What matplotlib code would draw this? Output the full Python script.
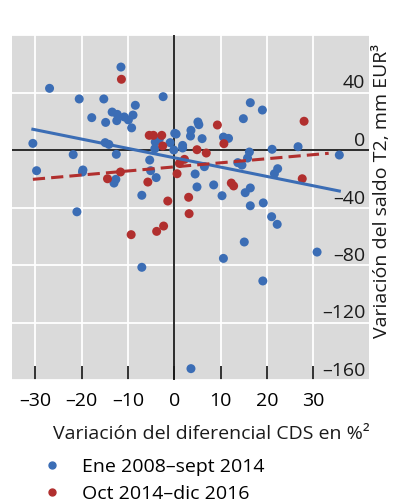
import numpy as np
import matplotlib
matplotlib.use("Agg")
import matplotlib.pyplot as plt
import matplotlib.transforms as mtransforms
from matplotlib.lines import Line2D

plt.rcParams['font.family'] = ['Open Sans', 'DejaVu Sans']

# Ene 2008 - sept 2014 (x: variacion CDS %, y: variacion saldo T2)
blue_x = [-11.5, -26.9, -20.5, -15.2, -2.4, -8.4, -17.8, -14.8, -13.4, -12.3,
          -12.4, -10.8, -9.9, -8.9, -9.2, -30.5, -14.9, -14.1, -21.8, -12.5,
          -29.7, -19.7, -19.8, -12.6, -13.0, -21.0, 0.1, 0.4, 5.1, 5.3,
          3.6, 3.5, 6.0, 10.6, 11.7, 14.9, -3.2, -4.1, -0.9, 1.8,
          1.8, -4.2, -0.1, -5.3, -5.1, -3.9, 4.5, 6.5, 4.9, 8.5,
          10.3, -7.0, 13.7, 14.6, 15.3, 16.4, 19.0, 16.2, 15.8, 21.1,
          26.7, 35.6, 22.3, 21.6, 16.4, 16.4, 19.2, 21.0, 22.2, 15.1,
          10.6, 30.8, 19.1, 3.6, -7.0]
blue_y = [57.7, 42.9, 35.5, 35.5, 37.1, 31.1, 22.5, 19.2, 26.4, 24.8,
          20.4, 23.0, 20.9, 24.3, 15.4, 4.6, 5.1, 3.9, -3.2, -3.0,
          -14.4, -13.9, -15.3, -20.4, -23.0, -43.0, 11.6, 11.1, 19.5, 17.6,
          13.7, 9.7, 7.9, 9.0, 8.1, 21.8, 7.9, 5.6, 5.1, 3.2,
          1.4, 0.9, 0.0, -7.0, -14.4, -19.2, -16.7, -11.6, -25.7, -24.3,
          -31.8, -31.5, -8.8, -10.5, -29.7, 32.9, 27.8, -1.4, -5.6, 0.5,
          2.3, -3.5, -13.0, -16.5, -26.4, -38.8, -36.8, -46.4, -51.7, -64.0,
          -75.4, -71.0, -91.1, -152.1, -81.6]

# Oct 2014 - dic 2016
red_x = [-11.4, -11.6, -14.4, -5.4, -4.5, -2.7, -2.5, 9.3, 10.7, 4.9,
         6.9, 2.2, 1.1, 0.6, -5.7, 12.3, 12.8, 3.1, -1.4, 3.2,
         -9.3, -3.8, -2.3, 28.0, 27.6]
red_y = [49.2, -15.3, -20.0, 10.2, 10.2, 10.2, 2.8, 17.4, 4.4, 0.2,
         -2.1, -6.5, -9.3, -16.5, -22.3, -23.0, -25.0, -32.9, -35.5, -44.3,
         -58.9, -56.6, -52.9, 20.0, -20.0]

# trend lines (slope, intercept)
blue_trend = (-0.65, -5.4)
red_trend = (0.284, -11.75)

labels = ['Ene 2008\u2013sept 2014', 'Oct 2014\u2013dic 2016']
xticks = [-30, -20, -10, 0, 10, 20, 30]
yticks = [-160, -120, -80, -40, 0, 40, 80]
ylabels_shown = [-160, -120, -80, -40, 0, 40]

c_blue = '#3b6db5'
c_red = '#b12f2e'
fs = 14

fig = plt.figure(figsize=(3.95, 5.04), dpi=100)
ax = fig.add_axes([12/395, 1-380/504, (369-12)/395, (380-35)/504])
ax.set_facecolor('#dadada')
ax.set_xlim(-35, 42)
ax.set_ylim(-160, 80)
for s in ax.spines.values():
    s.set_visible(False)

ax.set_xticks(xticks)
ax.set_xticklabels([str(t).replace('-', '\u2013') for t in xticks], fontsize=fs)
ax.set_yticks(yticks)
ax.set_yticklabels([])
ax.tick_params(axis='x', direction='in', length=10, width=1.3, color='#222222', pad=8.5)
ax.tick_params(axis='y', length=0)
ax.grid(True, color='white', linewidth=1.3, zorder=0)
ax.set_axisbelow(True)

ax.axhline(0, color='#1a1a1a', linewidth=1.3, zorder=1)
ax.axvline(0, color='#1a1a1a', linewidth=1.3, zorder=1)

ax.scatter(blue_x, blue_y, s=42, color=c_blue, edgecolors='none', zorder=3)
ax.scatter(red_x, red_y, s=42, color=c_red, edgecolors='none', zorder=3)

xs = np.array([min(blue_x), max(blue_x)])
ax.plot(xs, blue_trend[0]*xs + blue_trend[1], color=c_blue, linewidth=2.2, zorder=4)
xr = np.array([min(blue_x), 33.3])
ax.plot(xr, red_trend[0]*xr + red_trend[1], color=c_red, linewidth=2.2,
        dashes=(4, 2), zorder=4)

trans = mtransforms.blended_transform_factory(ax.transAxes, ax.transData)
trans = mtransforms.offset_copy(trans, fig=fig, y=4, units='dots')
for v in ylabels_shown:
    ax.text(0.99, v, str(v).replace('-', '\u2013'), transform=trans,
            ha='right', va='baseline', fontsize=fs, color='#1a1a1a', zorder=5)

fig.text(382/395, 1-191/504, 'Variación del saldo T2, mm EUR\u00b3', rotation=90,
         ha='center', va='center', fontsize=fs, color='#1a1a1a')
fig.text(211/395, 1-434/504, 'Variación del diferencial CDS en %\u00b2',
         ha='center', va='center', fontsize=fs, color='#1a1a1a')

handles = [Line2D([], [], marker='o', linestyle='none', markersize=5, color=c_blue),
           Line2D([], [], marker='o', linestyle='none', markersize=5, color=c_red)]
fig.legend(handles, labels, loc='upper left', bbox_to_anchor=(40/395, 1-458/504),
           frameon=False, fontsize=fs, handletextpad=0.95, labelspacing=0.45,
           borderaxespad=0, borderpad=0, handlelength=1.2)

fig.savefig('out.png', dpi=100)
